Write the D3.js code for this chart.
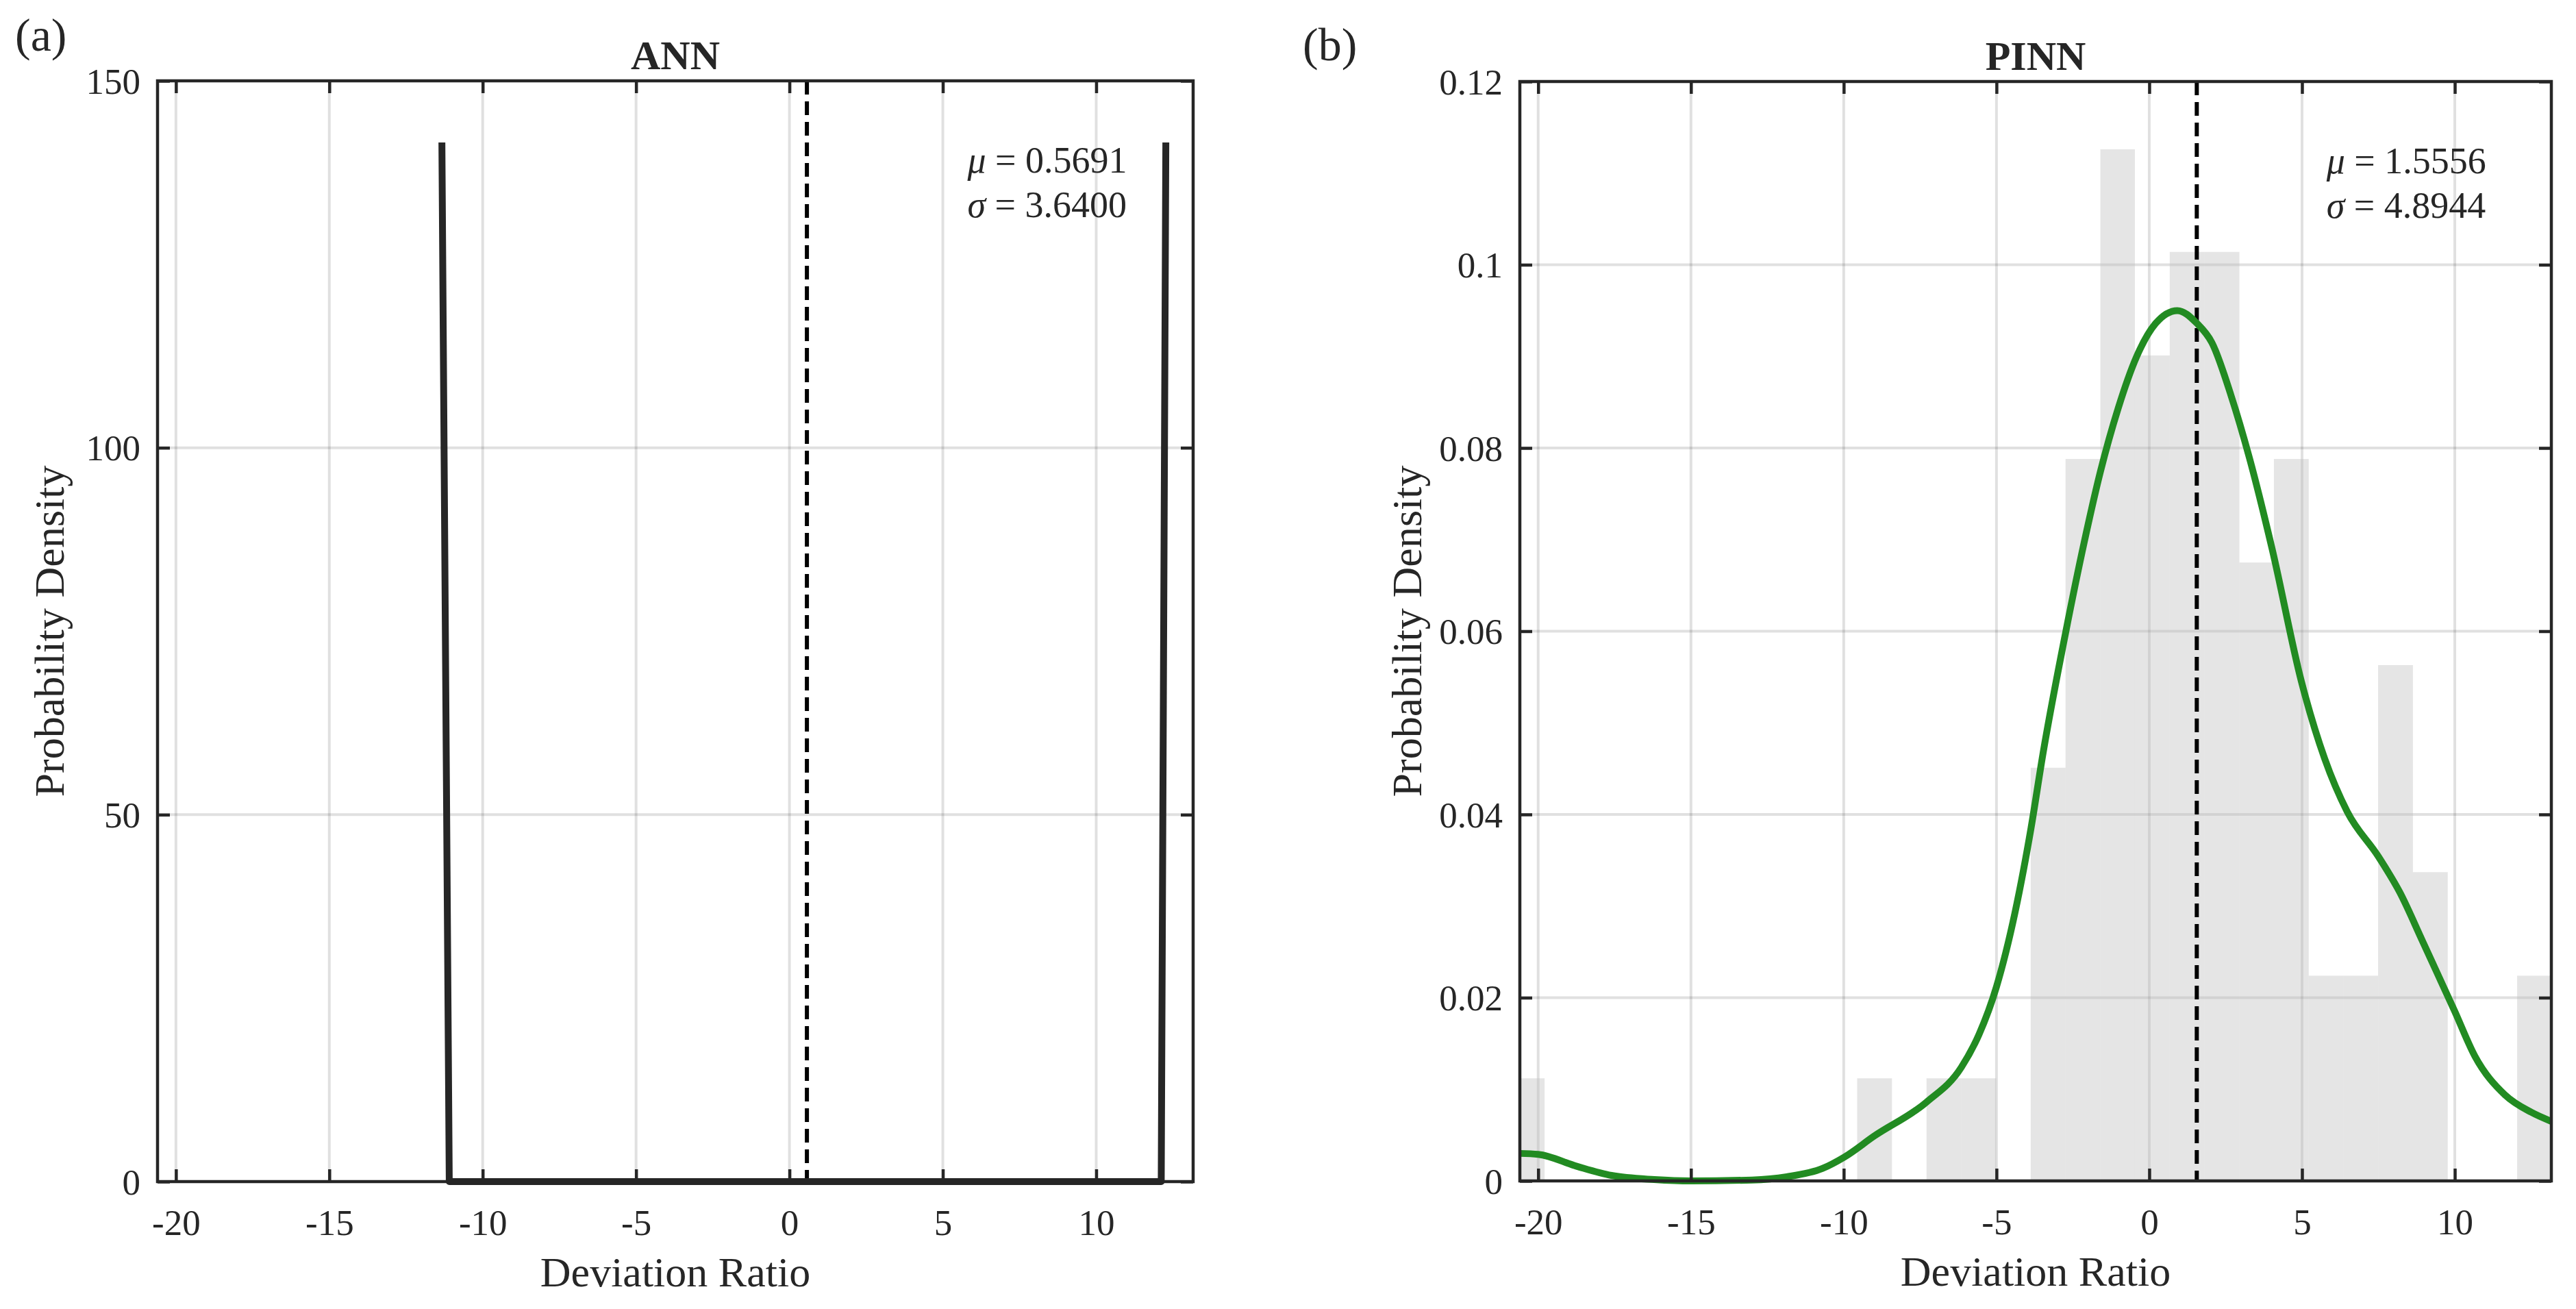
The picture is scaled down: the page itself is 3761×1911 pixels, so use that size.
<!DOCTYPE html>
<html>
<head>
<meta charset="utf-8">
<script src="https://cdn.jsdelivr.net/npm/d3@7"></script>
<style>
  html, body { margin: 0; padding: 0; background: #fff; }
  svg { display: block; }
  text { font-family: "Liberation Serif", "Times New Roman", serif; fill: #262626; }
</style>
</head>
<body>
<div id="chart"></div>
<script>
// ---- data ----
const xTicks = [-20, -15, -10, -5, 0, 5, 10];
const xDomain = [-20.6, 13.16];

// (a) ANN
const annYTicks = [0, 50, 100, 150];
const annX = [-11.33, -11.09, 12.12, 12.27];
const annY = [141.6, 0, 0, 141.6];
const annMu = '0.5691', annSigma = '3.6400';

// (b) PINN
const pinnYTicks = [0, 0.02, 0.04, 0.06, 0.08, 0.1, 0.12];
const pinnBinEdges = [-20.93, -19.79, -18.65, -17.52, -16.38, -15.24, -14.11, -12.97, -11.83, -10.70,
  -9.56, -8.42, -7.29, -6.15, -5.01, -3.88, -2.74, -1.60, -0.47, 0.67,
  1.81, 2.95, 4.08, 5.22, 6.36, 7.49, 8.63, 9.77, 10.90, 12.04, 13.18];
const pinnDensity = [0.0112, 0, 0, 0, 0, 0, 0, 0, 0, 0,
  0.0112, 0, 0.0112, 0.0112, 0, 0.0451, 0.0788, 0.1126, 0.0901, 0.1014,
  0.1014, 0.0675, 0.0788, 0.0224, 0.0224, 0.0563, 0.0337, 0, 0, 0.0224];
const pinnKdeX = [-20.6, -20, -18.74, -17.6, -16.2, -15, -13.0, -11.86, -10.7, -9.98,
  -9.0, -7.29, -6.15, -5.57, -5.0, -4.4, -3.87, -3.48, -2.74, -2.13,
  -1.60, -1.02, -0.41, 0.21, 0.92, 1.56, 2.05, 2.67, 3.28, 4.02,
  4.98, 5.74, 6.48, 7.50, 8.2, 8.94, 10.0, 10.66, 11.64, 12.5, 13.16];
const pinnKdeY = [0.0030, 0.0029, 0.0016, 0.0006, 0.00015, 0.0000, 0.0001, 0.00045, 0.00135, 0.0026,
  0.0049, 0.0086, 0.0124, 0.0160, 0.0212, 0.0292, 0.0385, 0.0466, 0.0598, 0.0697,
  0.0774, 0.0843, 0.0900, 0.0936, 0.0950, 0.0936, 0.0915, 0.0858, 0.0789, 0.0690,
  0.0545, 0.0461, 0.0403, 0.0354, 0.0315, 0.0262, 0.0185, 0.0136, 0.0094, 0.0075, 0.0065];
const pinnMu = '1.5556', pinnSigma = '4.8944';

// ---- drawing ----
const W = 3761, H = 1911;
const AXIS = '#262626';
const TICK_LEN = 18;

const svg = d3.select('#chart').append('svg')
  .attr('width', W).attr('height', H)
  .attr('viewBox', `0 0 ${W} ${H}`);
svg.append('rect').attr('width', W).attr('height', H).attr('fill', '#fff');

function drawPanel(p) {
  const w = p.right - p.left, h = p.bottom - p.top;
  const g = svg.append('g').attr('transform', `translate(${p.left},${p.top})`);
  const x = d3.scaleLinear().domain(xDomain).range([0, w]);
  const y = d3.scaleLinear().domain(p.yDomain).range([h, 0]);

  g.append('clipPath').attr('id', p.id + '-clip')
    .append('rect').attr('width', w).attr('height', h);

  // grid
  const grid = g.append('g').attr('stroke', '#000').attr('stroke-opacity', 0.12).attr('stroke-width', 4);
  grid.selectAll('.gx').data(xTicks).join('line')
    .attr('x1', (d) => x(d)).attr('x2', (d) => x(d)).attr('y1', 0).attr('y2', h);
  grid.selectAll('.gy').data(p.yTicks).join('line')
    .attr('x1', 0).attr('x2', w).attr('y1', (d) => y(d)).attr('y2', (d) => y(d));

  const plot = g.append('g').attr('clip-path', `url(#${p.id}-clip)`);

  if (p.bins) {
    plot.selectAll('rect.bar').data(p.bins.density).join('rect')
      .attr('class', 'bar')
      .attr('x', (d, i) => x(p.bins.edges[i]))
      .attr('width', (d, i) => x(p.bins.edges[i + 1]) - x(p.bins.edges[i]))
      .attr('y', (d) => y(d))
      .attr('height', (d) => h - y(d))
      .attr('fill', '#bfbfbf').attr('fill-opacity', 0.4);
  }

  // mean line
  g.append('line')
    .attr('x1', x(+p.mu)).attr('x2', x(+p.mu)).attr('y1', 0).attr('y2', h)
    .attr('stroke', '#000').attr('stroke-width', 6).attr('stroke-dasharray', '20,10');

  const line = d3.line()
    .x((d, i) => x(p.lineX[i]))
    .y((d) => y(d))
    .curve(p.smooth ? d3.curveMonotoneX : d3.curveLinear);
  g.append('path')
    .attr('d', line(p.lineY))
    .attr('fill', 'none').attr('stroke', p.lineColor).attr('stroke-width', p.lineWidth)
    .attr('stroke-linejoin', 'round');

  // axes: ticks inward on all four sides
  const xAxisB = g.append('g').attr('transform', `translate(0,${h})`)
    .call(d3.axisBottom(x).tickValues(xTicks).tickSize(-TICK_LEN).tickPadding(40).tickFormat((d) => String(d)));
  const xAxisT = g.append('g')
    .call(d3.axisTop(x).tickValues(xTicks).tickSize(-TICK_LEN).tickFormat(''));
  const yAxisL = g.append('g')
    .call(d3.axisLeft(y).tickValues(p.yTicks).tickSize(-TICK_LEN).tickPadding(25).tickFormat((d) => String(d)));
  const yAxisR = g.append('g').attr('transform', `translate(${w},0)`)
    .call(d3.axisRight(y).tickValues(p.yTicks).tickSize(-TICK_LEN).tickFormat(''));
  [xAxisB, xAxisT, yAxisL, yAxisR].forEach((ax) => {
    ax.select('.domain').remove();
    ax.selectAll('line').attr('stroke', AXIS).attr('stroke-width', 4.5);
    ax.selectAll('text').attr('font-size', 53).attr('fill', AXIS)
      .style('font-family', '"Liberation Serif", "Times New Roman", serif');
  });
  yAxisL.selectAll('text').attr('dy', '0.34em');

  g.append('rect').attr('width', w).attr('height', h)
    .attr('fill', 'none').attr('stroke', AXIS).attr('stroke-width', 4.5);

  // labels
  g.append('text').attr('x', w / 2).attr('y', -17)
    .attr('text-anchor', 'middle').attr('font-size', 60).attr('font-weight', 'bold')
    .attr('fill', '#000').text(p.title);
  g.append('text').attr('x', w / 2).attr('y', h + 153)
    .attr('text-anchor', 'middle').attr('font-size', 62).text('Deviation Ratio');
  g.append('text').attr('transform', 'rotate(-90)')
    .attr('x', -h / 2).attr('y', -p.ylabelOffset)
    .attr('text-anchor', 'middle').attr('font-size', 62).text('Probability Density');
  svg.append('text').attr('x', p.tagX).attr('y', p.tagY)
    .attr('font-size', 68).text(p.tag);

  const ann = g.append('text').attr('font-size', 54).attr('fill', '#000');
  const l1 = ann.append('tspan').attr('x', w * 0.782).attr('y', 134);
  l1.append('tspan').attr('font-style', 'italic').text('μ');
  l1.append('tspan').text(' = ' + p.mu);
  const l2 = ann.append('tspan').attr('x', w * 0.782).attr('y', 199);
  l2.append('tspan').attr('font-style', 'italic').text('σ');
  l2.append('tspan').text(' = ' + p.sigma);
}

drawPanel({
  id: 'ann', left: 230, right: 1742, top: 118, bottom: 1725,
  yDomain: [0, 150], yTicks: annYTicks,
  lineX: annX, lineY: annY, lineColor: '#262626', lineWidth: 10, smooth: false,
  mu: annMu, sigma: annSigma, title: 'ANN', tag: '(a)', tagX: 22, tagY: 74, ylabelOffset: 137
});

drawPanel({
  id: 'pinn', left: 2219, right: 3725, top: 119, bottom: 1724,
  yDomain: [0, 0.12], yTicks: pinnYTicks,
  bins: { edges: pinnBinEdges, density: pinnDensity },
  lineX: pinnKdeX, lineY: pinnKdeY, lineColor: '#228b22', lineWidth: 10, smooth: true,
  mu: pinnMu, sigma: pinnSigma, title: 'PINN', tag: '(b)', tagX: 1902, tagY: 88, ylabelOffset: 144
});
</script>
</body>
</html>
